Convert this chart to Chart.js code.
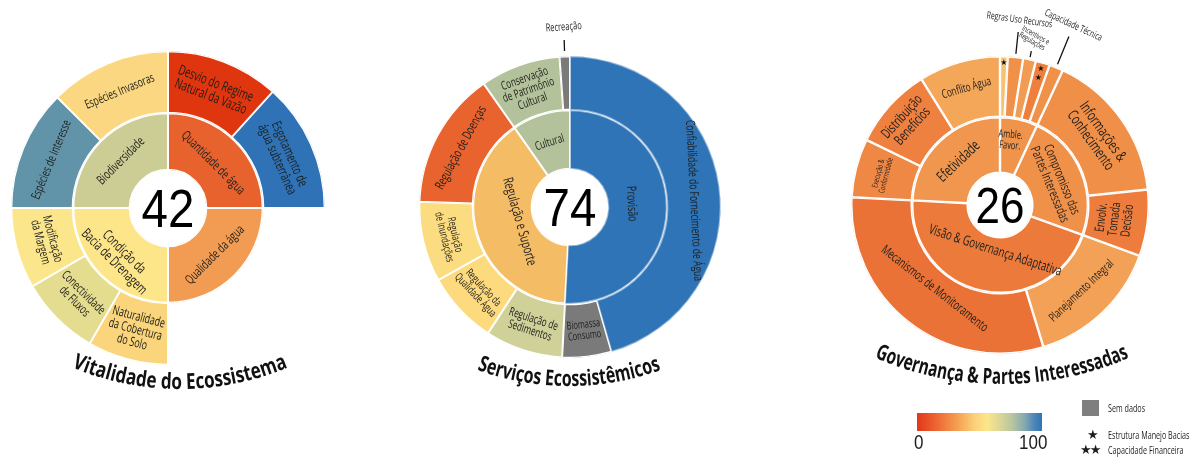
<!DOCTYPE html>
<html>
<head>
<meta charset="utf-8">
<script src="https://cdn.jsdelivr.net/npm/chart.js@4.4.1/dist/chart.umd.min.js"></script>
<style>
  body { margin: 0; background: #fff; width: 1196px; height: 457px; position: relative; overflow: hidden; font-family: "Open Sans", sans-serif; }
  canvas { position: absolute; top: 0; }
  .lg { position: absolute; color: #1d1d1b; white-space: nowrap; }
  .sm { font: 10px 'Open Sans', sans-serif; transform: scaleX(0.72); transform-origin: left; }
</style>
</head>
<body>
<canvas id="vit" width="370" height="457" style="left:0"></canvas>
<canvas id="svc" width="420" height="457" style="left:370px"></canvas>
<canvas id="gov" width="406" height="457" style="left:790px"></canvas>

<div class="lg" style="left:917px;top:413px;width:125px;height:18px;background:linear-gradient(to right,#e2361c 0%,#e9552a 10%,#f07c3d 22%,#f5a656 34%,#fbd07a 46%,#fce68b 56%,#dcd797 66%,#b8c6a0 76%,#86a9b0 86%,#4d85b8 94%,#2f74b6 100%)"></div>
<div class="lg" style="left:914px;top:431px;font:20px 'Liberation Sans',sans-serif;transform:scaleX(0.85);transform-origin:left">0</div>
<div class="lg" style="left:1019px;top:431px;font:20px 'Liberation Sans',sans-serif;transform:scaleX(0.85);transform-origin:left">100</div>
<div class="lg" style="left:1082px;top:400px;width:17px;height:16px;background:#7f7f7f"></div>
<div class="lg sm" style="left:1108px;top:401px">Sem dados</div>
<div class="lg" style="left:1087px;top:427px;font:13px 'DejaVu Sans',sans-serif">★</div>
<div class="lg sm" style="left:1108px;top:428px">Estrutura Manejo Bacias</div>
<div class="lg" style="left:1080px;top:442px;font:13px 'DejaVu Sans',sans-serif;letter-spacing:-2px">★★</div>
<div class="lg sm" style="left:1108px;top:443px">Capacidade Financeira</div>

<script>
// ---- Vitalidade do Ecossistema ----
const vitScore = '42';
const vitInnerLabels = ['Quantidade de água', 'Qualidade da água', 'Condição da\nBacia de Drenagem', 'Biodiversidade'];
const vitInnerShares = [90, 90, 90, 90];
const vitInnerColors = ['#e8622e', '#f19c52', '#fde68a', '#cccd95'];
const vitOuterLabels = ['Desvio do Regime\nNatural da Vazão', 'Esgotamento de\nágua subterrânea', '',
  'Naturalidade\nda Cobertura\ndo Solo', 'Conectividade\nde Fluxos', 'Modificação\nda Margem',
  'Espécies de Interesse', 'Espécies Invasoras'];
const vitOuterShares = [42, 48, 90, 30, 30, 30, 45, 45];
const vitOuterColors = ['#e0360f', '#2f73b6', 'rgba(0,0,0,0)', '#fad57b', '#e4dc8e', '#fce68b', '#6193a9', '#fad780'];

// ---- Serviços Ecossistêmicos ----
const svcScore = '74';
const svcInnerLabels = ['Provisão', 'Regulação e Suporte', 'Cultural'];
const svcInnerShares = [183, 142, 35];
const svcInnerColors = ['#2f74b6', '#f5bc66', '#b3c29a'];
const svcOuterLabels = ['Confiabilidade do Fornecimento de Água', 'Biomassa\nConsumo', 'Regulação de\nSedimentos',
  'Regulação da\nQualidade Água', 'Regulação\nde Inundações', 'Regulação de Doenças',
  'Conservação\nde Patrimônio\nCultural', ''];
const svcOuterShares = [164, 19, 30, 28, 31, 53, 31, 4];
const svcOuterColors = ['#2f74b6', '#7a7a7a', '#cfd198', '#fcda7d', '#fcdc80', '#e8632e', '#b3c29a', '#7a7a7a'];
const svcOuterCallouts = ['', '', '', '', '', '', '', 'Recreação'];

// ---- Governança & Partes Interessadas ----
const govScore = '26';
const govInnerLabels = ['Amble.\nFavor.', 'Compromisso das\nPartes Interessadas', 'Visão & Governança Adaptativa', 'Efetividade'];
const govInnerShares = [25, 85, 163, 87];
const govInnerColors = ['#f0944c', '#f0914a', '#ec7b3b', '#f0964e'];
const govOuterLabels = ['', '', '', '', '', 'Informações &\nConhecimento', 'Envolv.\nTomada\nDecisão',
  'Planejamento Integral', 'Mecanismos de Monitoramento', 'Execução &\nConformidade',
  'Distribuição\nBenefícios', 'Conflito Água'];
const govOuterShares = [3, 6, 5, 5.5, 5.5, 59, 26, 53, 110, 23, 32, 32];
const govOuterColors = ['#f6c271', '#f0914a', '#f29b53', '#ee7f3d', '#f0914a', '#f08f47', '#ee7d3d',
  '#f3a157', '#eb7236', '#ef8844', '#ee8040', '#f4a659'];
const govOuterMarks = ['★', '', '', '★★', '', '', '', '', '', '', '', ''];
const govOuterCallouts = ['', 'Regras Uso Recursos', 'Incentivos e\nRegulações', '', 'Capacidade Técnica',
  '', '', '', '', '', '', ''];

const LABEL_FONT = '"Open Sans", "Liberation Sans", sans-serif';
const INK = '#1d1d1b';

function drawLines(ctx, txt, x, y, rotDeg, size, opt) {
  opt = opt || {};
  const lines = txt.split('\n');
  const lh = size * (opt.lh || 1.0);
  ctx.save();
  ctx.translate(x, y);
  ctx.rotate(rotDeg * Math.PI / 180);
  ctx.scale(opt.sx || 0.68, 1);
  ctx.font = (opt.weight || 400) + ' ' + size + 'px ' + LABEL_FONT;
  ctx.fillStyle = INK;
  ctx.textAlign = 'center';
  ctx.textBaseline = 'middle';
  lines.forEach((ln, k) => ctx.fillText(ln, 0, (k - (lines.length - 1) / 2) * lh));
  ctx.restore();
}

function pick(arr, i, dflt) {
  return arr && arr[i] != null ? arr[i] : dflt;
}

// labels inside the arcs, written along the ring
const sunburstText = {
  id: 'sunburstText',
  afterDatasetsDraw(chart) {
    const ctx = chart.ctx;
    chart.data.datasets.forEach((ds, di) => {
      const meta = chart.getDatasetMeta(di);
      meta.data.forEach((arc, i) => {
        const p = arc.getProps(['x', 'y', 'startAngle', 'endAngle', 'innerRadius', 'outerRadius'], true);
        const mid = ((p.startAngle + p.endAngle) / 2 + Math.PI / 2) * 180 / Math.PI;
        const txt = ds.labelText && ds.labelText[i];
        if (txt) {
          const theta = pick(ds.labelAngle, i, mid);
          const f = pick(ds.labelRadius, i, 0.5);
          const r = p.innerRadius + (p.outerRadius - p.innerRadius) * f;
          const a = theta * Math.PI / 180;
          let rot = theta;
          const t = ((theta % 360) + 360) % 360;
          if (t > 90 && t < 270) rot -= 180;
          rot = pick(ds.labelRot, i, rot);
          drawLines(ctx, txt, p.x + Math.sin(a) * r, p.y - Math.cos(a) * r, rot, pick(ds.labelSize, i, 12));
        }
        const mark = ds.marks && ds.marks[i];
        if (mark) {
          const a = mid * Math.PI / 180;
          ctx.save();
          ctx.font = '8px "DejaVu Sans", sans-serif';
          ctx.fillStyle = '#111';
          ctx.textAlign = 'center';
          ctx.textBaseline = 'middle';
          [...mark].forEach((ch, k) => {
            const r = p.outerRadius - 7 - k * 9;
            ctx.fillText(ch, p.x + Math.sin(a) * r, p.y - Math.cos(a) * r);
          });
          ctx.restore();
        }
        const call = ds.callouts && ds.callouts[i];
        if (call) {
          const st = ds.calloutStyle[i];
          const a = mid * Math.PI / 180;
          const sa = Math.sin(a), ca = Math.cos(a);
          ctx.save();
          ctx.strokeStyle = '#111';
          ctx.lineWidth = 1.3;
          ctx.beginPath();
          ctx.moveTo(p.x + sa * st.line[0], p.y - ca * st.line[0]);
          ctx.lineTo(p.x + sa * st.line[1], p.y - ca * st.line[1]);
          ctx.stroke();
          ctx.restore();
          drawLines(ctx, call, p.x + sa * st.text + (st.dx || 0), p.y - ca * st.text, st.rot, st.size, {lh: 0.9});
        }
      });
    });
  }
};

// big score in the hole
const centerScore = {
  id: 'centerScore',
  afterDraw(chart, args, opts) {
    const arc = chart.getDatasetMeta(0).data[0];
    const ctx = chart.ctx;
    ctx.save();
    ctx.translate(arc.x, arc.y);
    ctx.scale(0.88, 1);
    ctx.font = opts.size + 'px "Liberation Sans", sans-serif';
    ctx.fillStyle = '#000';
    ctx.textAlign = 'center';
    ctx.textBaseline = 'alphabetic';
    ctx.fillText(opts.text, 0, opts.size * 0.36);
    ctx.restore();
  }
};

// title bent along an arc under the chart
const arcTitle = {
  id: 'arcTitle',
  afterDraw(chart, args, o) {
    const ctx = chart.ctx;
    ctx.save();
    ctx.font = '700 ' + o.size + 'px "Open Sans", sans-serif';
    ctx.fillStyle = '#111';
    ctx.textAlign = 'center';
    ctx.textBaseline = 'alphabetic';
    const chars = [...o.text];
    const total = chars.reduce((s, ch) => s + ctx.measureText(ch).width, 0);
    const k = o.width / total;
    let acc = -o.width / 2;
    chars.forEach(ch => {
      const w = ctx.measureText(ch).width * k;
      const phi = (acc + w / 2) / o.radius;
      ctx.save();
      ctx.translate(o.cx + o.radius * Math.sin(phi), o.baseY - o.radius + o.radius * Math.cos(phi));
      ctx.rotate(-phi);
      ctx.scale(k, 1);
      ctx.fillText(ch, 0, 0);
      ctx.restore();
      acc += w;
    });
    ctx.restore();
  }
};

function sunburst(id, c) {
  const canvas = document.getElementById(id);
  const W = canvas.width, H = canvas.height;
  return new Chart(canvas, {
    type: 'doughnut',
    data: { labels: c.outer.labelText, datasets: [c.outer, c.inner] },
    options: {
      responsive: false,
      animation: false,
      events: [],
      cutout: (c.hole / c.R * 100) + '%',
      layout: { padding: { left: c.cx - c.R, right: W - c.cx - c.R, top: c.cy - c.R, bottom: H - c.cy - c.R } },
      plugins: {
        legend: { display: false },
        tooltip: { enabled: false },
        centerScore: { text: c.score, size: c.scoreSize },
        arcTitle: c.title
      }
    },
    plugins: [sunburstText, centerScore, arcTitle]
  });
}

function ring(data, colors, weight, extra) {
  return Object.assign({
    data: data,
    backgroundColor: colors,
    borderColor: '#ffffff',
    borderWidth: 1,
    borderAlign: 'inner',
    hoverOffset: 0,
    weight: weight
  }, extra);
}

sunburst('vit', {
  cx: 168, cy: 208, R: 157, hole: 38, score: vitScore, scoreSize: 54,
  outer: ring(vitOuterShares, vitOuterColors, 62, {
    borderWidth: [1, 1, 0, 1, 1, 1, 1, 1],
    labelText: vitOuterLabels,
    labelSize: [14, 13.5, 0, 13, 12.5, 12.5, 12.5, 12.5]
  }),
  inner: ring(vitInnerShares, vitInnerColors, 57, {
    labelText: vitInnerLabels,
    labelSize: [13, 13, 14, 13],
    labelRadius: [0.45, 0.5, 0.55, 0.5]
  }),
  title: { text: 'Vitalidade do Ecossistema', cx: 180, baseY: 389, radius: 280, size: 22, width: 222 }
});

sunburst('svc', {
  cx: 200, cy: 207, R: 151, hole: 38, score: svcScore, scoreSize: 54,
  outer: ring(svcOuterShares, svcOuterColors, 54, {
    borderColor: ['rgba(255,255,255,0.45)', '#fff', '#fff', '#fff', '#fff', '#fff', '#fff', '#fff'],
    labelText: svcOuterLabels,
    labelSize: [12.5, 11, 12, 11, 11, 13, 12, 12],
    labelAngle: [87, null, null, null, null, null, null, null],
    callouts: svcOuterCallouts,
    calloutStyle: { 7: { line: [156, 167], text: 180, rot: -4, size: 11 } }
  }),
  inner: ring(svcInnerShares, svcInnerColors, 59, {
    borderColor: ['rgba(255,255,255,0.45)', '#fff', '#fff'],
    labelText: svcInnerLabels,
    labelSize: [13, 14, 12],
    labelRadius: [0.4, 0.25, 0.5],
    labelAngle: [87, null, null]
  }),
  title: { text: 'Serviços Ecossistêmicos', cx: 199, baseY: 386, radius: 270, size: 22, width: 188 }
});

sunburst('gov', {
  cx: 210, cy: 205, R: 149, hole: 32, score: govScore, scoreSize: 50,
  outer: ring(govOuterShares, govOuterColors, 61, {
    borderWidth: 1.2,
    labelText: govOuterLabels,
    labelSize: [0, 0, 0, 0, 0, 15, 13, 12, 13, 8, 14, 12],
    labelRadius: [0.5, 0.5, 0.5, 0.5, 0.5, 0.5, 0.45, 0.5, 0.3, 0.55, 0.6, 0.55],
    marks: govOuterMarks,
    callouts: govOuterCallouts,
    calloutStyle: {
      1: { line: [152, 174], text: 186, rot: 8, size: 10 },
      2: { line: [151, 157], text: 170, rot: 30, size: 8 },
      4: { line: [152, 182], text: 194, rot: 25, size: 10 }
    }
  }),
  inner: ring(govInnerShares, govInnerColors, 56, {
    borderWidth: 1.2,
    labelText: govInnerLabels,
    labelSize: [11, 13, 14, 15],
    labelRadius: [0.6, 0.5, 0.25, 0.5],
    labelAngle: [9, null, 186, null],
    labelRot: [5, null, 18, null]
  }),
  title: { text: 'Governança & Partes Interessadas', cx: 212, baseY: 384, radius: 320, size: 22, width: 262 }
});
</script>
</body>
</html>
